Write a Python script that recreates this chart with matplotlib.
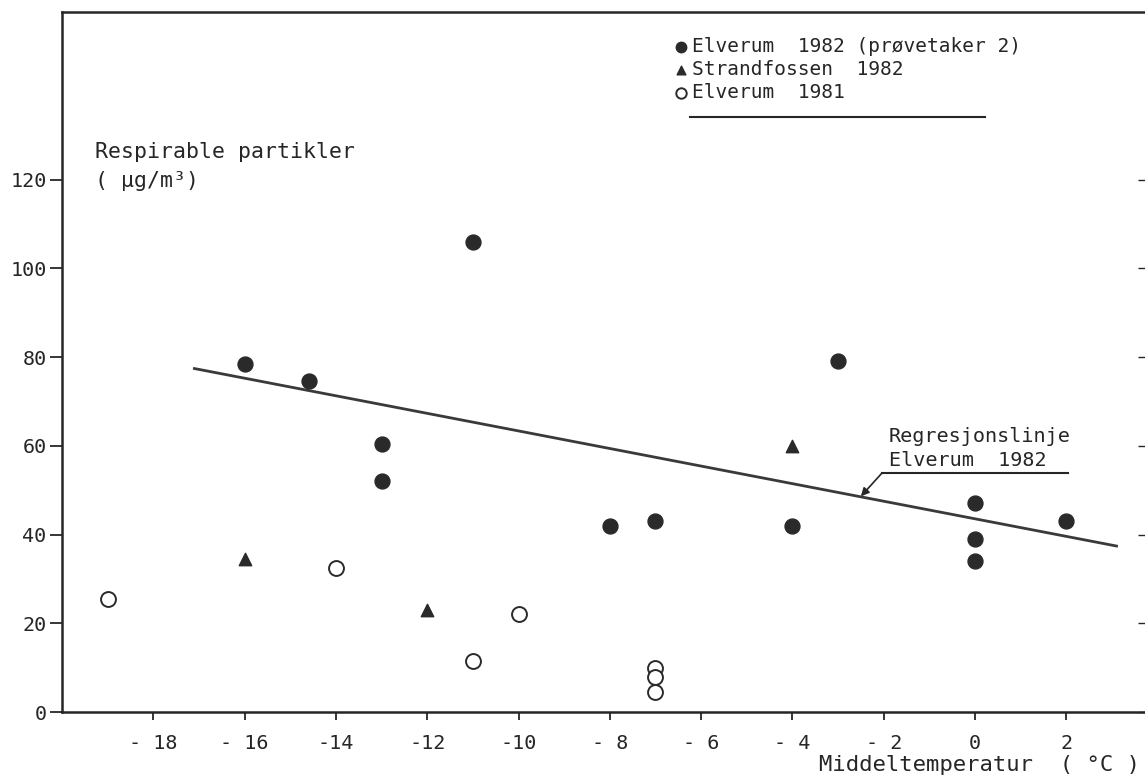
import matplotlib
matplotlib.use("Agg")
import matplotlib.pyplot as plt
from matplotlib.lines import Line2D

plt.rcParams['font.family'] = ['DejaVu Sans Mono', 'DejaVu Sans']

# ---- data ----
elv82_x = [-16, -14.6, -13, -13, -11, -8, -7, -4, -3, 0, 0, 0, 2]
elv82_y = [78.5, 74.5, 60.4, 52, 106, 42, 43, 42, 79, 47, 39, 34, 43]
strand_x = [-16, -12, -4]
strand_y = [34.5, 23, 60]
elv81_x = [-19, -14, -11, -10, -7, -7, -7]
elv81_y = [25.5, 32.5, 11.5, 22, 10, 8, 4.5]
reg_x = [-17.1, 3.1]
reg_y = [77.4, 37.4]

xticks = [-18, -16, -14, -12, -10, -8, -6, -4, -2, 0, 2]
xticklabels = ["- 18", "- 16", "-14", "-12", "-10", "- 8", "- 6", "- 4", "- 2", "0", "2"]
yticks = [0, 20, 40, 60, 80, 100, 120]
yticklabels = ["0", "20", "40", "60", "80", "100", "120"]

legend_labels = ["Elverum  1982 (prøvetaker 2)", "Strandfossen  1982", "Elverum  1981"]

W, H = 1145, 778
def fx(px):
    return px / W
def fy(py):
    return 1 - py / H

ink = '#262626'

fig = plt.figure(figsize=(W / 100, H / 100), dpi=100)
fig.patch.set_facecolor('white')
left_px, right_px, top_px, bot_px = 62, 1157.6, 12, 712
ax = fig.add_axes([fx(left_px), fy(bot_px), (right_px - left_px) / W, (bot_px - top_px) / H])
ax.set_xlim(-20, 4)
ax.set_ylim(0, (bot_px - top_px) / 4.4375)

ax.plot(reg_x, reg_y, color='#3a3a3a', lw=2.0, zorder=2)
s1 = ax.scatter(elv82_x, elv82_y, s=115, marker='o', color='#2a2a2a', zorder=3)
s2 = ax.scatter(strand_x, strand_y, s=80, marker='^', color='#2a2a2a', zorder=3)
s3 = ax.scatter(elv81_x, elv81_y, s=115, marker='o', facecolors='white',
                edgecolors='#2a2a2a', linewidths=1.4, zorder=3)

for side in ['left', 'bottom', 'top']:
    ax.spines[side].set_linewidth(1.8)
    ax.spines[side].set_color(ink)
ax.spines['right'].set_visible(False)

ax.set_xticks(xticks)
ax.set_xticklabels(xticklabels)
ax.set_yticks(yticks)
ax.set_yticklabels(yticklabels)
ax.tick_params(axis='x', direction='out', length=6, width=1.3, color=ink,
               labelsize=14.5, pad=10, labelcolor=ink)
ax.tick_params(axis='y', direction='out', length=9, width=1.3, color=ink,
               labelsize=14.5, pad=2, labelcolor=ink, right=True)
for t in ax.yaxis.get_major_ticks():
    t.tick2line.set_marker(0)
    t.tick2line.set_markersize(14.5)
    t.tick2line.set_markeredgewidth(1.0)

# axis texts
fig.text(fx(95), fy(152), "Respirable partikler", fontsize=15.5, color=ink,
         ha='left', va='center')
fig.text(fx(95), fy(181), "( \u00b5g/m\u00b3)", fontsize=15.5, color=ink,
         ha='left', va='center')
fig.text(fx(1140), fy(765), "Middeltemperatur  ( \u00b0C )", fontsize=16, color=ink,
         ha='right', va='center')

# legend
leg = ax.legend([s1, s2, s3], legend_labels, loc='upper left',
                bbox_to_anchor=(fx(673), fy(37)), bbox_transform=fig.transFigure,
                frameon=False, fontsize=14, handletextpad=0.2, handlelength=0.8,
                labelspacing=0.2, borderpad=0, borderaxespad=0, markerscale=0.7,
                labelcolor=ink)
fig.add_artist(Line2D([fx(690), fx(985)], [fy(117), fy(117)], transform=fig.transFigure,
                      color=ink, lw=1.5))

# regression annotation
fig.text(fx(889), fy(436), "Regresjonslinje", fontsize=14.5, color=ink, ha='left', va='center')
fig.text(fx(889), fy(461), "Elverum  1982", fontsize=14.5, color=ink, ha='left', va='center')
fig.add_artist(Line2D([fx(882), fx(1068)], [fy(473), fy(473)], transform=fig.transFigure,
                      color=ink, lw=1.5))
ax.annotate("", xy=(-2.5, 48.6), xycoords='data',
            xytext=(882, H - 473), textcoords='figure pixels',
            arrowprops=dict(arrowstyle='-|>', color=ink, lw=1.2,
                            mutation_scale=12, shrinkA=0, shrinkB=0))

fig.savefig('out.png', dpi=100, facecolor='white')
